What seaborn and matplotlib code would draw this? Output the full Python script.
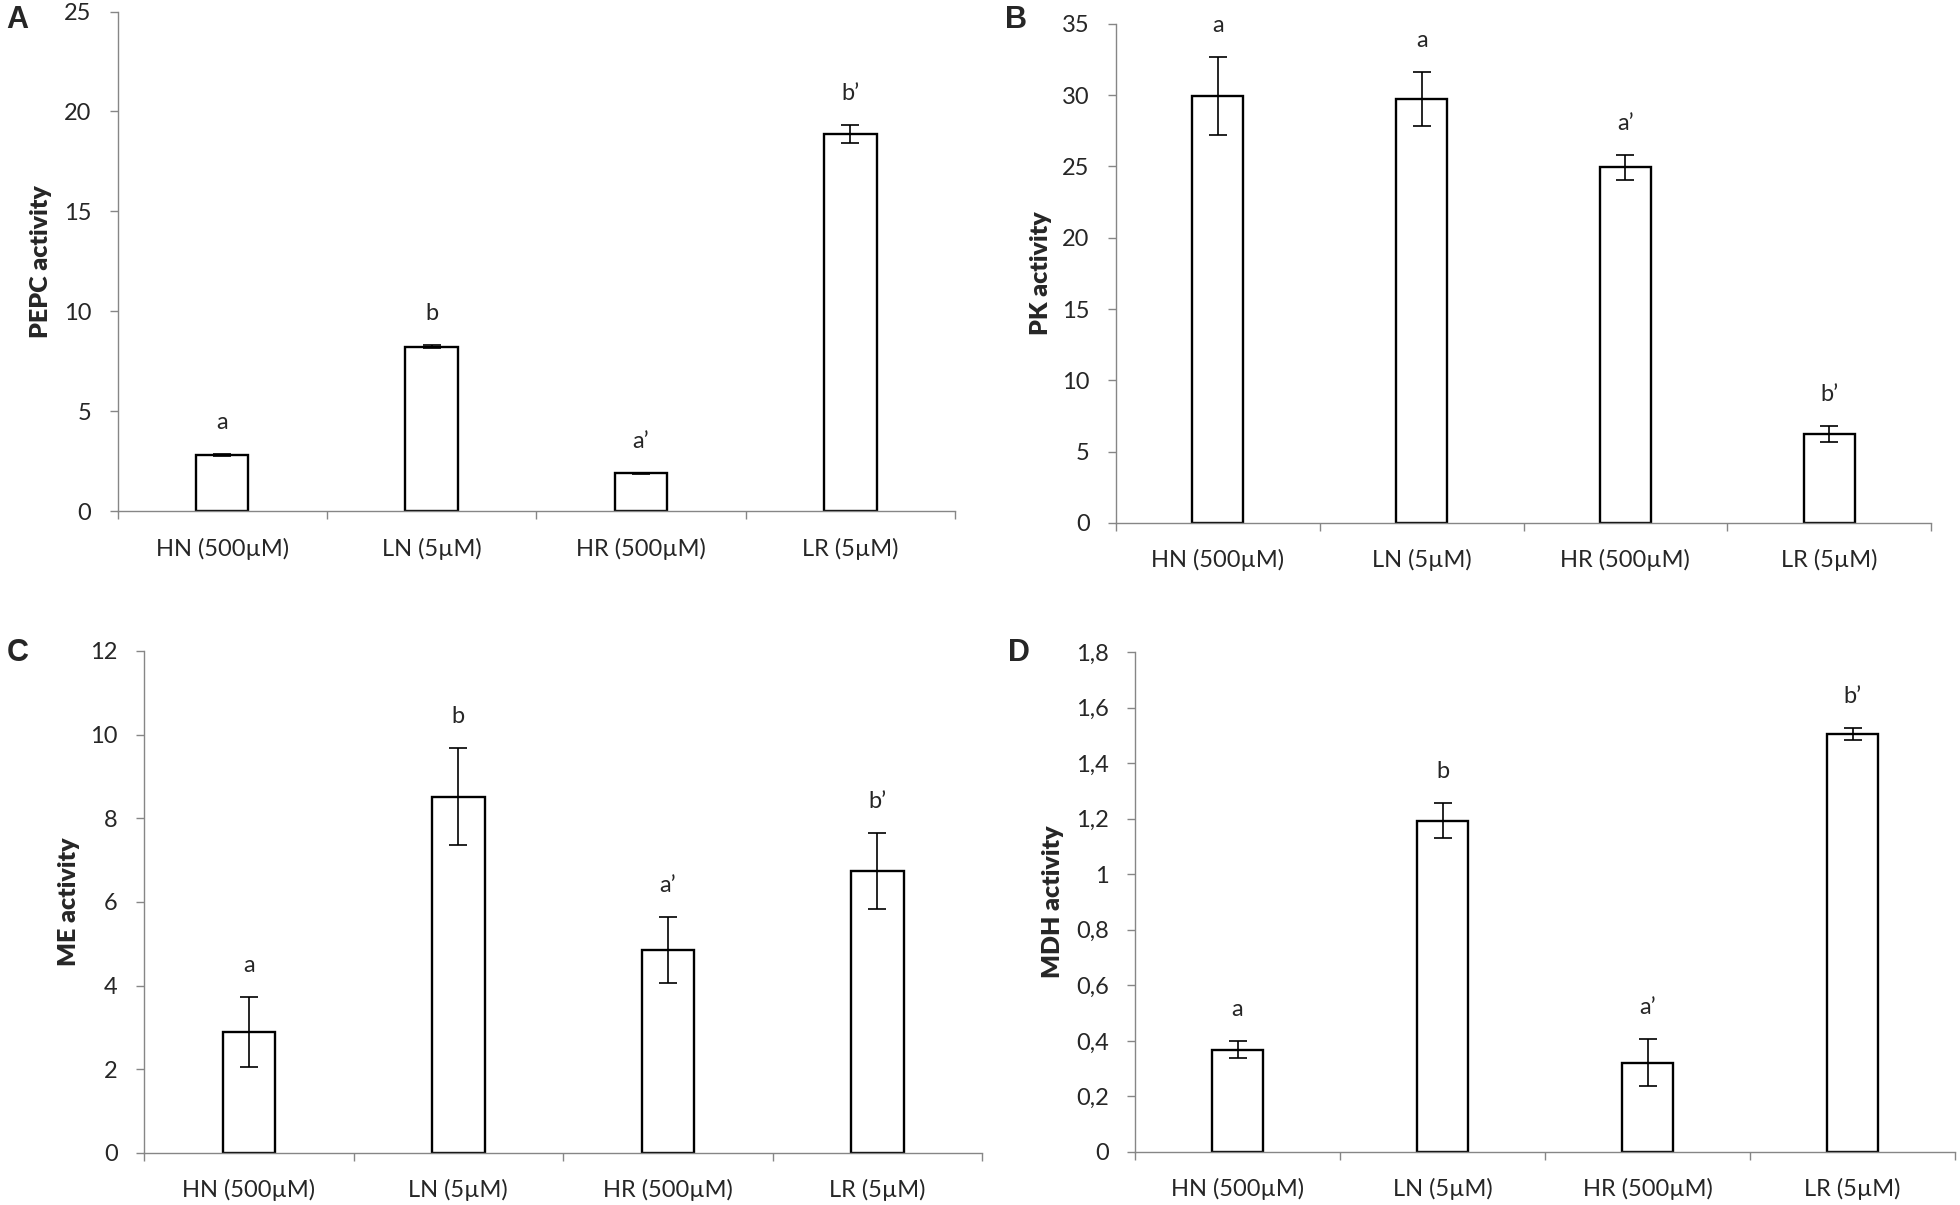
import numpy as np
import pandas as pd
import matplotlib
matplotlib.use("Agg")
import matplotlib.pyplot as plt
import seaborn as sns
from matplotlib.ticker import MultipleLocator, FixedLocator, FuncFormatter

# Data
conditions = ["HN (500µM)", "LN (5µM)", "HR (500µM)", "LR (5µM)"]

pepc = [2.82, 8.23, 1.88, 18.86]
pepc_err = [0.05, 0.06, 0.03, 0.46]
pepc_letters = ["a", "b", "a’", "b’"]

pk = [29.95, 29.7, 24.93, 6.23]
pk_err = [2.75, 1.9, 0.9, 0.57]
pk_letters = ["a", "a", "a’", "b’"]

me = [2.89, 8.52, 4.86, 6.74]
me_err = [0.83, 1.17, 0.79, 0.91]
me_letters = ["a", "b", "a’", "b’"]

mdh = [0.368, 1.193, 0.322, 1.504]
mdh_err = [0.03, 0.062, 0.085, 0.022]
mdh_letters = ["a", "b", "a’", "b’"]

# Style
sns.set_style("white")
plt.rcParams['font.family'] = ['Lato', 'DejaVu Sans']

AXIS_GREY = '#868686'

panels = [
    dict(tag='A', ylabel='PEPC activity', values=pepc, errors=pepc_err, letters=pepc_letters,
         ymax=25, step=5, rect=[0.0600, 0.5759, 0.4273, 0.4145], label_x=-0.078, tag_xy=(6, 5)),
    dict(tag='B', ylabel='PK activity', values=pk, errors=pk_err, letters=pk_letters,
         ymax=35, step=5, rect=[0.5694, 0.5660, 0.4158, 0.4143], label_x=-0.078, tag_xy=(1005, 5)),
    dict(tag='C', ylabel='ME activity', values=me, errors=me_err, letters=me_letters,
         ymax=12, step=2, rect=[0.0735, 0.0432, 0.4276, 0.4166], label_x=-0.076, tag_xy=(7, 638)),
    dict(tag='D', ylabel='MDH activity', values=mdh, errors=mdh_err, letters=mdh_letters,
         ymax=1.8, step=0.2, rect=[0.5791, 0.0440, 0.4184, 0.4149], label_x=-0.087, tag_xy=(1008, 638)),
]


def comma_fmt(v, pos):
    return f"{v:g}".replace('.', ',')


def draw_panel(fig, p):
    ax = fig.add_axes(p['rect'])
    df = pd.DataFrame({'condition': conditions, 'activity': p['values']})

    # White bars with black outline
    sns.barplot(data=df, x='condition', y='activity', color='white', edgecolor='black',
                linewidth=1.7, width=0.25, saturation=1, errorbar=None, ax=ax)

    # Error bars
    x = np.arange(len(conditions))
    ax.errorbar(x, p['values'], yerr=p['errors'], fmt='none', ecolor='black',
                elinewidth=1.2, capsize=6.5, capthick=1.2)

    # Significance letters above the error bars
    tops = np.array(p['values']) + np.array(p['errors'])
    for xi, yi, lab in zip(x, tops, p['letters']):
        ax.annotate(lab, (xi, yi), xytext=(0, 18), textcoords='offset points',
                    ha='center', va='baseline', fontsize=17)

    # Axes limits and ticks
    ax.set_xlim(-0.5, len(conditions) - 0.5)
    ax.set_ylim(0, p['ymax'])
    ax.yaxis.set_major_locator(MultipleLocator(p['step']))
    ax.yaxis.set_major_formatter(FuncFormatter(comma_fmt))
    ax.xaxis.set_minor_locator(FixedLocator(np.arange(-0.5, len(conditions), 1.0)))

    ax.tick_params(axis='y', direction='out', length=6, width=1, color=AXIS_GREY,
                   labelsize=17, pad=13, left=True)
    ax.tick_params(axis='x', which='major', length=0, labelsize=17, pad=19)
    ax.tick_params(axis='x', which='minor', direction='out', length=6, width=1,
                   color=AXIS_GREY, bottom=True)

    for side in ['top', 'right']:
        ax.spines[side].set_visible(False)
    for side in ['left', 'bottom']:
        ax.spines[side].set_color(AXIS_GREY)
        ax.spines[side].set_linewidth(1)

    ax.set_xlabel('')
    ax.set_ylabel(p['ylabel'], fontweight='heavy', fontsize=18)
    ax.yaxis.set_label_coords(p['label_x'], 0.5)

    # Panel tag
    tx, ty = p['tag_xy']
    fig.text(tx / 1960, 1 - ty / 1205, p['tag'], ha='left', va='top',
             fontsize=22, fontweight='bold', family='Liberation Sans')
    return ax


fig = plt.figure(figsize=(19.6, 12.05), dpi=100)
for p in panels:
    draw_panel(fig, p)

fig.savefig('out.png', dpi=100, facecolor='white')
